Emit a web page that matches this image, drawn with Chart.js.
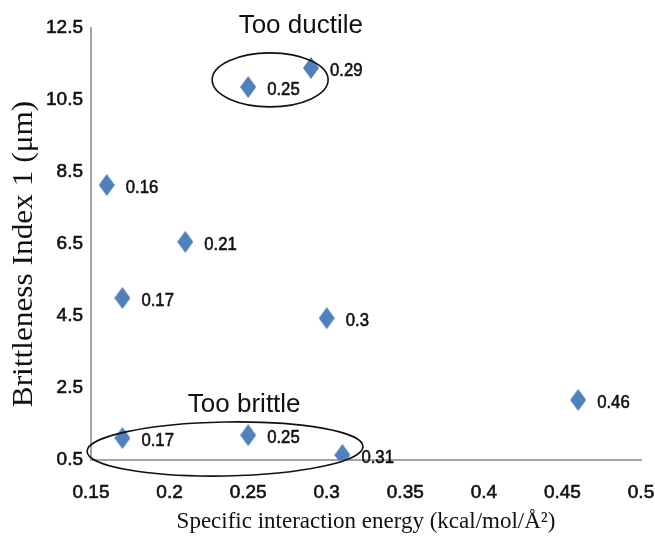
<!DOCTYPE html>
<html>
<head>
<meta charset="utf-8">
<script src="https://cdn.jsdelivr.net/npm/chart.js@4/dist/chart.umd.min.js"></script>
<style>
  html, body { margin: 0; padding: 0; background: #ffffff; }
  canvas { display: block; }
</style>
</head>
<body>
<canvas id="chart" width="655" height="549"></canvas>
<script>
// Specific interaction energy (x) vs. brittleness index (y) for each sample
const energy      = [0.16, 0.21, 0.17, 0.30, 0.46, 0.17, 0.25, 0.31, 0.25, 0.29];
const brittleness = [8.14, 6.56, 5.00, 4.44, 2.17, 1.11, 1.19, 0.64, 10.86, 11.39];
const pointLabels = ['0.16', '0.21', '0.17', '0.3', '0.46', '0.17', '0.25', '0.31', '0.25', '0.29'];

// Axis tick values
const xTicks = [0.15, 0.2, 0.25, 0.3, 0.35, 0.4, 0.45, 0.5];
const yTicks = [0.5, 2.5, 4.5, 6.5, 8.5, 10.5, 12.5];

// Circled regions, given in data units
const zoneNames = ['Too ductile', 'Too brittle'];
const zones = [
  { cx: 0.264,  cy: 11.06, rx: 0.0369, ry: 0.75, rot: 0,      tx: 0.2835, ty: 12.56 },
  { cx: 0.2353, cy: 0.806, rx: 0.0878, ry: 0.75, rot: -0.018, tx: 0.2475, ty: 2.02 }
];

const Y_TITLE = 'Brittleness Index 1 (μm)';
const BLUE = '#4f81bd';
const INK = '#111';
const SANS = '"Liberation Sans", Arial, sans-serif';
const SERIF = '"Liberation Serif", "Times New Roman", serif';

function diamondImage(w, h, color) {
  const c = document.createElement('canvas');
  c.width = w; c.height = h;
  const g = c.getContext('2d');
  g.fillStyle = color;
  g.beginPath();
  g.moveTo(w / 2, 0);
  g.lineTo(w, h / 2);
  g.lineTo(w / 2, h);
  g.lineTo(0, h / 2);
  g.closePath();
  g.fill();
  return c;
}
const marker = diamondImage(16, 22, BLUE);

const annotate = {
  id: 'annotate',
  afterDatasetsDraw(chart) {
    const ctx = chart.ctx;
    const xs = chart.scales.x, ys = chart.scales.y;
    const area = chart.chartArea;
    const meta = chart.getDatasetMeta(0);
    ctx.save();
    ctx.fillStyle = INK;
    ctx.strokeStyle = INK;

    // value labels beside each marker, narrow and slightly heavy
    ctx.font = '19px ' + SANS;
    ctx.textAlign = 'left';
    ctx.textBaseline = 'middle';
    ctx.lineWidth = 0.6;
    meta.data.forEach((pt, i) => {
      ctx.save();
      ctx.translate(pt.x + 19, pt.y + 3);
      ctx.scale(0.88, 1);
      ctx.fillText(pointLabels[i], 0, 0);
      ctx.strokeText(pointLabels[i], 0, 0);
      ctx.restore();
    });

    // circled regions and their captions
    ctx.lineWidth = 1.6;
    zones.forEach((z, i) => {
      const cx = xs.getPixelForValue(z.cx);
      const cy = ys.getPixelForValue(z.cy);
      const rx = Math.abs(xs.getPixelForValue(z.cx + z.rx) - cx);
      const ry = Math.abs(ys.getPixelForValue(z.cy + z.ry) - cy);
      ctx.beginPath();
      ctx.ellipse(cx, cy, rx, ry, z.rot, 0, Math.PI * 2);
      ctx.stroke();
      ctx.font = '26px ' + SANS;
      ctx.textAlign = 'center';
      ctx.fillText(zoneNames[i], xs.getPixelForValue(z.tx), ys.getPixelForValue(z.ty));
    });

    // vertical axis title
    ctx.translate(24, (area.top + area.bottom) / 2 + 10);
    ctx.rotate(-Math.PI / 2);
    ctx.scale(1.08, 1);
    ctx.font = '29px ' + SERIF;
    ctx.textAlign = 'center';
    ctx.textBaseline = 'middle';
    ctx.fillText(Y_TITLE, 0, 0);
    ctx.restore();
  }
};

const tickFont = { family: SANS, size: 19 };

new Chart(document.getElementById('chart'), {
  type: 'scatter',
  data: {
    datasets: [{
      data: energy.map((e, i) => ({ x: e, y: brittleness[i] })),
      pointStyle: marker,
      pointRadius: 11,
      pointHoverRadius: 11,
      backgroundColor: BLUE,
      borderColor: BLUE
    }]
  },
  options: {
    responsive: false,
    animation: false,
    layout: { padding: { top: 28, right: 14, left: 0, bottom: 0 } },
    plugins: { legend: { display: false }, tooltip: { enabled: false } },
    scales: {
      x: {
        type: 'linear',
        min: 0.15, max: 0.5,
        afterBuildTicks: s => { s.ticks = xTicks.map(v => ({ value: v })); },
        afterFit: s => { s.height = 89; },
        // invisible tick marks set the gap between axis line and labels
        grid: { display: true, drawOnChartArea: false, drawTicks: true, tickLength: 21, color: 'rgba(0,0,0,0)' },
        border: { display: true, color: '#a6a6a6', width: 2 },
        ticks: {
          padding: 0,
          color: INK,
          textStrokeColor: INK,
          textStrokeWidth: 0.6,
          maxRotation: 0,
          font: tickFont,
          callback: v => String(+v.toFixed(2))
        },
        title: {
          display: true,
          text: 'Specific interaction energy (kcal/mol/Å²)',
          color: INK,
          font: { family: SERIF, size: 23 },
          padding: { top: 0, bottom: 13 }
        }
      },
      y: {
        type: 'linear',
        min: 0.5, max: 12.5,
        afterBuildTicks: s => { s.ticks = yTicks.map(v => ({ value: v })); },
        afterFit: s => { s.width = 91; },
        grid: { display: false, drawTicks: false },
        border: { display: true, color: '#a6a6a6', width: 2 },
        ticks: {
          padding: 8,
          color: INK,
          textStrokeColor: INK,
          textStrokeWidth: 0.6,
          font: tickFont,
          callback: v => String(+v.toFixed(1))
        }
      }
    }
  },
  plugins: [annotate]
});
</script>
</body>
</html>
